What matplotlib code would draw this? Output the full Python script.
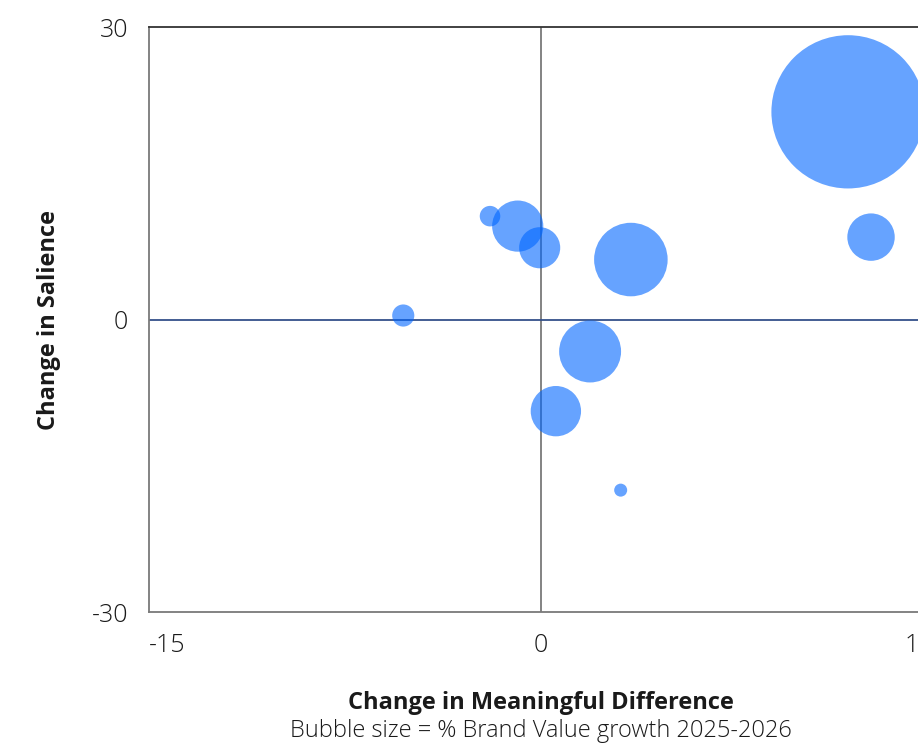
import matplotlib
matplotlib.use('Agg')
import matplotlib.pyplot as plt
import numpy as np

plt.rcParams['font.family'] = ['Open Sans', 'DejaVu Sans']

# change in meaningful difference (x), change in salience (y)
meaningful_diff = [11.75, 12.63, -1.95, -0.89, -0.05, -5.27, 3.44, 1.88, 0.57, 3.05]
salience = [21.3, 8.45, 10.6, 9.58, 7.36, 0.41, 6.15, -3.28, -9.4, -17.5]
# % brand value growth 2025-2026, drives the bubble area
growth = [139, 13.3, 2.5, 15.5, 10, 2.9, 32, 22.7, 15, 1]

x_ticks = [-15, 0, 15]
y_ticks = [-30, 0, 30]

bubble_color = '#0066ff'
size_scale = 87.6
text_color = '#1a1a1a'

fig = plt.figure(figsize=(9.18, 7.44), dpi=100)
ax = fig.add_axes([0.1623, 0.1774, 0.854, 0.7863])

ax.set_xlim(-15, 15)
ax.set_ylim(-30, 30)

ax.axvline(0, color='#7a7a7a', lw=1.3, zorder=1)
ax.axhline(0, color='#34508a', lw=1.3, zorder=1)

sizes = [g * size_scale for g in growth]
ax.scatter(meaningful_diff, salience, s=sizes, color=bubble_color, alpha=0.6,
           edgecolors='none', zorder=2, clip_on=False)

for side in ['left', 'bottom']:
    ax.spines[side].set_color('#7a7a7a')
    ax.spines[side].set_linewidth(1.3)
ax.spines['top'].set_color('#333333')
ax.spines['top'].set_linewidth(1.3)
ax.spines['right'].set_color('#333333')

ax.set_xticks(x_ticks)
ax.set_yticks(y_ticks)
ax.set_xticklabels([str(t) for t in x_ticks])
ax.set_yticklabels([str(t) for t in y_ticks])
ax.tick_params(length=0, pad=15, labelsize=18, labelcolor=text_color)
for lbl in ax.get_xticklabels() + ax.get_yticklabels():
    lbl.set_fontweight('light')
xl = ax.get_xticklabels()
xl[0].set_horizontalalignment('left')
xl[-1].set_horizontalalignment('right')

ax.set_ylabel('Change in Salience', fontsize=17, fontweight='bold',
              labelpad=22, color=text_color)
ax.set_xlabel('Change in Meaningful Difference', fontsize=17, fontweight='bold',
              labelpad=24, color=text_color)
fig.text(0.5 * (0.1623 + 0.1623 + 0.854), 1 - 731 / 744,
         'Bubble size = % Brand Value growth 2025-2026', fontsize=17,
         fontweight='light', ha='center', va='center', color=text_color)

fig.savefig('out.png', dpi=100)
